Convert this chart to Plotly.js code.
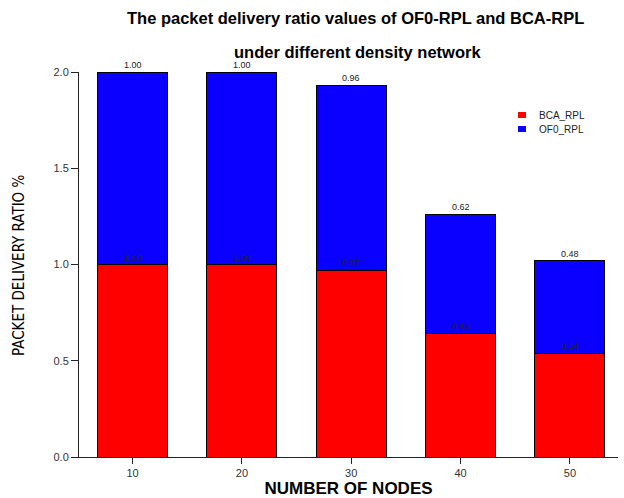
<!DOCTYPE html>
<html>
<head>
<meta charset="utf-8">
<script src="https://cdn.plot.ly/plotly-3.0.1.min.js"></script>
<style>html,body{margin:0;padding:0;background:#fff;}#chart{width:624px;height:498px;}</style>
</head>
<body>
<div id="chart"></div>
<script>
const nodes = [10, 20, 30, 40, 50];
const bcaRPL = [1.00, 1.00, 0.97, 0.64, 0.54];
const of0RPL = [1.00, 1.00, 0.96, 0.62, 0.48];
const yTicks = [0, 0.5, 1.0, 1.5, 2.0];
const seriesNames = ['BCA_RPL', 'OF0_RPL'];
const seriesColors = ['#ff0000', '#0a00ff'];
const titleLines = ["The packet delivery ratio values of OF0-RPL and BCA-RPL", "under different density network"];

// plot area in pixels (for paper-coordinate conversions of decorations)
const L = 79, R = 6, T = 72, B = 41, W = 624, H = 498;
const pw = W - L - R, ph = H - T - B;
const px2x = p => (p - L) / pw;
const py2y = p => (H - B - p) / ph;

const lineStyle = {color: '#000', width: 1};
const traces = [
  {type: 'bar', x: nodes, y: bcaRPL, name: seriesNames[0], width: 6.4,
   marker: {color: seriesColors[0], line: lineStyle}, hoverinfo: 'none'},
  {type: 'bar', x: nodes, y: of0RPL, name: seriesNames[1], width: 6.4,
   marker: {color: seriesColors[1], line: lineStyle}, hoverinfo: 'none'}
];

const labelFont = {family: 'Liberation Sans, Arial, sans-serif', size: 9, color: '#222'};
const annotations = [];
nodes.forEach((n, i) => {
  annotations.push({x: n, y: bcaRPL[i], xref: 'x', yref: 'y', text: bcaRPL[i].toFixed(2),
    showarrow: false, yanchor: 'bottom', font: labelFont});
  annotations.push({x: n, y: bcaRPL[i] + of0RPL[i], xref: 'x', yref: 'y', text: of0RPL[i].toFixed(2),
    showarrow: false, yanchor: 'bottom', font: labelFont});
});
const titleFont = {family: 'Liberation Sans, Arial, sans-serif', size: 16.5, color: '#000'};
annotations.push({xref: 'paper', yref: 'paper', x: px2x(355), y: py2y(18), yanchor: 'middle',
  text: '<b>' + titleLines[0] + '</b>', showarrow: false, font: titleFont});
annotations.push({xref: 'paper', yref: 'paper', x: px2x(357), y: py2y(52), yanchor: 'middle',
  text: '<b>' + titleLines[1] + '</b>', showarrow: false, font: titleFont});
// y axis title
annotations.push({xref: 'paper', yref: 'paper', x: px2x(19), y: py2y(265), xanchor: 'center', yanchor: 'middle',
  textangle: -90, text: 'PACKET DELIVERY RATIO %', showarrow: false,
  font: {family: 'DejaVu Sans Condensed, Liberation Sans Narrow, Liberation Sans, sans-serif', size: 15, color: '#000'}});

// manual legend
const shapes = [];
const legendRows = [115, 129];
seriesNames.forEach((nm, k) => {
  const cy = legendRows[k];
  shapes.push({type: 'rect', xref: 'paper', yref: 'paper', x0: px2x(518), x1: px2x(526),
    y0: py2y(cy + 3), y1: py2y(cy - 3), fillcolor: seriesColors[k], line: {width: 0}});
  annotations.push({xref: 'paper', yref: 'paper', x: px2x(537), y: py2y(cy), xanchor: 'left', yanchor: 'middle',
    text: nm, showarrow: false, font: {family: 'Liberation Sans, Arial, sans-serif', size: 10, color: '#222'}});
});

const layout = {
  width: W, height: H,
  margin: {l: L, r: R, t: T, b: B},
  paper_bgcolor: '#fff', plot_bgcolor: '#fff',
  barmode: 'stack',
  showlegend: false,
  xaxis: {
    range: [5.1, 54.4], tickvals: nodes, ticktext: nodes.map(String),
    showgrid: false, zeroline: false, showline: true, linecolor: '#222', linewidth: 1,
    ticks: 'outside', ticklen: 6, tickcolor: '#222',
    tickfont: {family: 'Liberation Sans, Arial, sans-serif', size: 11, color: '#333'},
    title: {text: '<b>NUMBER OF NODES</b>', standoff: 6,
      font: {family: 'Liberation Sans, Arial, sans-serif', size: 17, color: '#000'}}
  },
  yaxis: {
    range: [0, 2], tickvals: yTicks, tickformat: '.1f',
    showgrid: false, zeroline: false, showline: true, linecolor: '#222', linewidth: 1,
    ticks: 'outside', ticklen: 7, tickcolor: '#222',
    tickfont: {family: 'Liberation Sans, Arial, sans-serif', size: 11, color: '#333'}
  },
  shapes: shapes,
  annotations: annotations
};
Plotly.newPlot('chart', traces, layout, {displayModeBar: false, staticPlot: true});
</script>
</body>
</html>
